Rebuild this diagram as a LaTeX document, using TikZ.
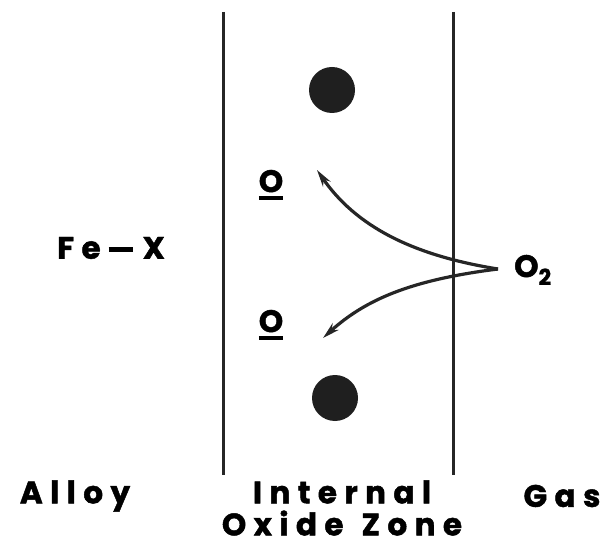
\documentclass[tikz,border=0pt]{standalone}
\usepackage{fontspec}
\newfontfamily\lbl{Poppins}[LetterSpace=24, BoldFeatures={FakeBold=1.5}]
\usetikzlibrary{arrows.meta}
\newcommand\ubarO{{\setbox0\hbox{O}\rlap{\rule[-8pt]{\wd0}{4pt}}O}}
\begin{document}
\begin{tikzpicture}[x=1pt,y=-1pt,
  txt/.style={font=\lbl\bfseries\fontsize{31}{35}\selectfont, inner sep=0pt, align=center},
  wall/.style={line width=3pt, black!85},
  dot/.style={circle, fill=black!88, minimum size=46pt, inner sep=0pt},
  flow/.style={line width=3.2pt, black!85, -{Stealth[length=17pt,width=9pt]}}]
\useasboundingbox (0,0) rectangle (613,545);
\coordinate (l1) at (223,12); \coordinate (l2) at (223,475);
\coordinate (r1) at (453,12); \coordinate (r2) at (453,475);
\draw[wall] (l1) -- (l2);
\draw[wall] (r1) -- (r2);
\node[dot] (d1) at (332,90) {};
\node[dot] (d2) at (335,398) {};
\node[txt] (o1) at (271,185) {\ubarO};
\node[txt] (o2) at (271,325) {\ubarO};
\node[txt] (fex) at (111,248) {Fe\hspace{8pt}\rule[7pt]{24pt}{5pt}\hspace{10pt}X};
\node[txt, anchor=west] (o2g) at (514,270) {O\raisebox{-8pt}{\fontsize{22}{26}\selectfont 2}};
\coordinate (cusp) at (498,269);
\coordinate (t1) at (317,170);
\coordinate (t2) at (323,338);
\draw[flow] (cusp) .. controls (410,255) and (355,225) .. (t1);
\draw[flow] (cusp) .. controls (410,280) and (365,300) .. (t2);
\node[txt] (alloy) at (75,496) {Alloy};
\node[txt] (izone) at (342,508) {Internal\\[-3pt]Oxide\hspace{18pt}Zone};
\node[txt] (gas) at (562,496) {Gas};
\end{tikzpicture}
\end{document}
